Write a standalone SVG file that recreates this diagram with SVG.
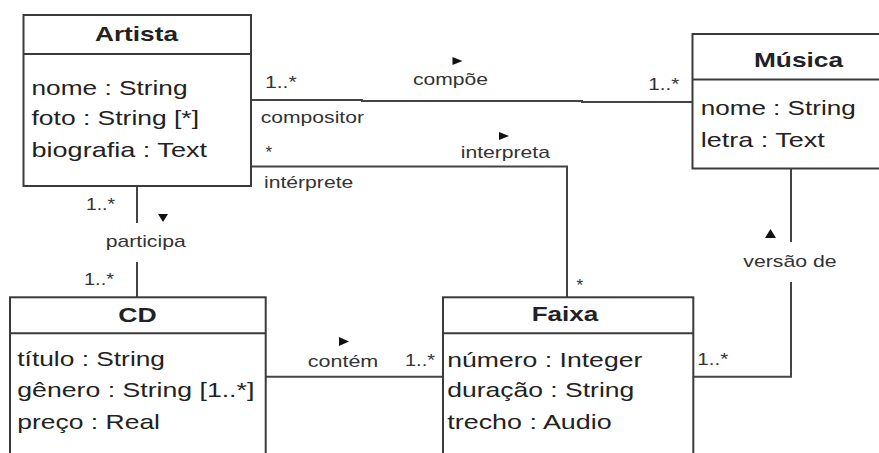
<svg xmlns="http://www.w3.org/2000/svg" width="879" height="453" viewBox="0 0 879 453">
<style>
.box{fill:#fff;stroke:#3a3a3a;stroke-width:2}
.div{stroke:#3a3a3a;stroke-width:2}
.con{fill:none;stroke:#444;stroke-width:2}
.t{font-family:"Liberation Sans",Arial,sans-serif;font-size:21px;fill:#222}
.b{font-weight:bold}
.l{font-family:"Liberation Sans",Arial,sans-serif;font-size:17px;fill:#333}
.arr{fill:#111}
</style>
<rect width="879" height="453" fill="#fff"/>
<g id="connectors">
  <path class="con" d="M251,100 H362 V101 H582 V102 H692"/>
  <path class="con" d="M251,166.5 H567 V297"/>
  <path class="con" d="M137,186 V223 M137,262 V297"/>
  <path class="con" d="M266,376.7 H443"/>
  <path class="con" d="M791,168.5 V242 M791,282 V376.7 H693"/>
  <polygon class="arr" points="452.5,57 462.5,61 452.5,65"/>
  <polygon class="arr" points="499,132 509,136 499,140"/>
  <polygon class="arr" points="158,214 168,214 163,222"/>
  <polygon class="arr" points="339,337 349,341.5 339,346"/>
  <polygon class="arr" points="765,238 776,238 770.5,229"/>
  <text class="l" x="265" y="88.3" textLength="31.7" lengthAdjust="spacingAndGlyphs">1..*</text>
  <text class="l" x="413" y="85" textLength="75" lengthAdjust="spacingAndGlyphs">compõe</text>
  <text class="l" x="648.3" y="90" textLength="31" lengthAdjust="spacingAndGlyphs">1..*</text>
  <text class="l" x="260.7" y="123.3" textLength="103.3" lengthAdjust="spacingAndGlyphs">compositor</text>
  <text class="l" x="265.5" y="157.5">*</text>
  <text class="l" x="460.7" y="158.3" textLength="89.3" lengthAdjust="spacingAndGlyphs">interpreta</text>
  <text class="l" x="264" y="188.3" textLength="89.3" lengthAdjust="spacingAndGlyphs">intérprete</text>
  <text class="l" x="86" y="210" textLength="29" lengthAdjust="spacingAndGlyphs">1..*</text>
  <text class="l" x="105.7" y="246.7" textLength="80" lengthAdjust="spacingAndGlyphs">participa</text>
  <text class="l" x="84" y="285" textLength="30" lengthAdjust="spacingAndGlyphs">1..*</text>
  <text class="l" x="576.5" y="291">*</text>
  <text class="l" x="307.7" y="367.3" textLength="70.6" lengthAdjust="spacingAndGlyphs">contém</text>
  <text class="l" x="405" y="366" textLength="30" lengthAdjust="spacingAndGlyphs">1..*</text>
  <text class="l" x="743.3" y="267.3" textLength="93.4" lengthAdjust="spacingAndGlyphs">versão de</text>
  <text class="l" x="697.3" y="365" textLength="31" lengthAdjust="spacingAndGlyphs">1..*</text>
</g>
<g id="artista">
  <rect class="box" x="23.5" y="15" width="227.5" height="171"/>
  <line class="div" x1="23.5" y1="54" x2="251" y2="54"/>
  <text class="t b" x="95" y="41" textLength="83" lengthAdjust="spacingAndGlyphs">Artista</text>
  <text class="t" x="31.5" y="94.5" textLength="156" lengthAdjust="spacingAndGlyphs">nome : String</text>
  <text class="t" x="31.5" y="125" textLength="167.5" lengthAdjust="spacingAndGlyphs">foto : String [*]</text>
  <text class="t" x="31.5" y="156.7" textLength="175.5" lengthAdjust="spacingAndGlyphs">biografia : Text</text>
</g>
<g id="musica">
  <rect class="box" x="692.5" y="34" width="220" height="134.5"/>
  <line class="div" x1="692.5" y1="79.5" x2="912.5" y2="79.5"/>
  <text class="t b" x="754" y="66.5" textLength="89" lengthAdjust="spacingAndGlyphs">Música</text>
  <text class="t" x="700.7" y="114.5" textLength="155" lengthAdjust="spacingAndGlyphs">nome : String</text>
  <text class="t" x="700.7" y="146.7" textLength="124" lengthAdjust="spacingAndGlyphs">letra : Text</text>
</g>
<g id="cd">
  <rect class="box" x="10" y="297.3" width="255.7" height="170"/>
  <line class="div" x1="10" y1="333.3" x2="265.7" y2="333.3"/>
  <text class="t b" x="118.3" y="321.7" textLength="38.4" lengthAdjust="spacingAndGlyphs">CD</text>
  <text class="t" x="17.3" y="366" textLength="147.7" lengthAdjust="spacingAndGlyphs">título : String</text>
  <text class="t" x="17.3" y="397" textLength="237" lengthAdjust="spacingAndGlyphs">gênero : String [1..*]</text>
  <text class="t" x="17.3" y="428.5" textLength="142.7" lengthAdjust="spacingAndGlyphs">preço : Real</text>
</g>
<g id="faixa">
  <rect class="box" x="443" y="297.3" width="250.3" height="170"/>
  <line class="div" x1="443" y1="333.3" x2="693.3" y2="333.3"/>
  <text class="t b" x="531.7" y="321" textLength="66.6" lengthAdjust="spacingAndGlyphs">Faixa</text>
  <text class="t" x="447.3" y="366.7" textLength="195" lengthAdjust="spacingAndGlyphs">número : Integer</text>
  <text class="t" x="447.3" y="396.7" textLength="187" lengthAdjust="spacingAndGlyphs">duração : String</text>
  <text class="t" x="447.3" y="429" textLength="164.4" lengthAdjust="spacingAndGlyphs">trecho : Audio</text>
</g>
</svg>
